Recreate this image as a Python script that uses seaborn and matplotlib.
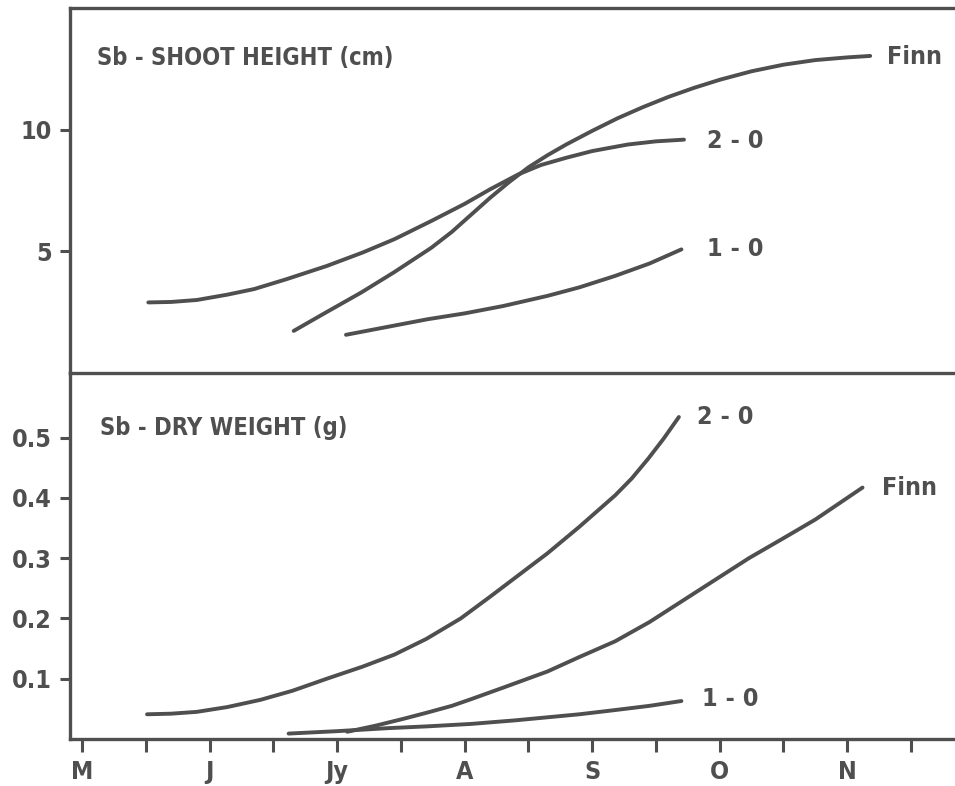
import matplotlib
matplotlib.use("Agg")
import matplotlib.pyplot as plt
import seaborn as sns
import pandas as pd

# ---- data (months: 0=May ... 6=Nov) ----
month_labels = ["M", "J", "Jy", "A", "S", "O", "N"]

# Shoot height (cm)
h_finn_x = [1.66, 1.90, 2.19, 2.45, 2.74, 2.90, 3.05, 3.20, 3.35, 3.50, 3.65, 3.80,
            4.00, 4.20, 4.40, 4.60, 4.80, 5.00, 5.25, 5.50, 5.75, 6.00, 6.18]
h_finn_y = [1.73, 2.45, 3.31, 4.15, 5.15, 5.80, 6.50, 7.20, 7.85, 8.45, 8.95, 9.40,
            9.95, 10.47, 10.93, 11.35, 11.72, 12.05, 12.40, 12.67, 12.86, 12.97, 13.03]
h_20_x = [0.52, 0.70, 0.90, 1.14, 1.35, 1.60, 1.92, 2.20, 2.45, 2.74, 3.00, 3.20,
          3.42, 3.60, 3.80, 4.00, 4.28, 4.50, 4.72]
h_20_y = [2.90, 2.92, 3.00, 3.22, 3.45, 3.85, 4.40, 4.95, 5.50, 6.25, 6.95, 7.55,
          8.16, 8.55, 8.85, 9.12, 9.39, 9.52, 9.59]
h_10_x = [2.07, 2.40, 2.71, 3.00, 3.30, 3.65, 3.90, 4.18, 4.45, 4.70]
h_10_y = [1.57, 1.90, 2.21, 2.45, 2.75, 3.17, 3.52, 3.99, 4.50, 5.08]

# Dry weight (g)
w_20_x = [0.51, 0.70, 0.90, 1.14, 1.40, 1.65, 1.92, 2.20, 2.45, 2.70, 2.97, 3.20,
          3.40, 3.65, 3.90, 4.18, 4.31, 4.44, 4.56, 4.68]
w_20_y = [0.041, 0.042, 0.045, 0.053, 0.065, 0.080, 0.100, 0.120, 0.140, 0.166, 0.200,
          0.236, 0.268, 0.308, 0.352, 0.404, 0.432, 0.465, 0.498, 0.534]
w_finn_x = [2.08, 2.30, 2.53, 2.71, 2.90, 3.05, 3.30, 3.65, 3.90, 4.18, 4.45, 4.70,
            4.95, 5.23, 5.50, 5.75, 6.12]
w_finn_y = [0.012, 0.022, 0.034, 0.044, 0.055, 0.066, 0.085, 0.112, 0.136, 0.162, 0.194,
            0.228, 0.262, 0.300, 0.333, 0.364, 0.417]
w_10_x = [1.62, 2.00, 2.40, 2.71, 3.05, 3.40, 3.65, 3.90, 4.18, 4.45, 4.70]
w_10_y = [0.009, 0.013, 0.018, 0.021, 0.025, 0.031, 0.036, 0.041, 0.048, 0.055, 0.063]

top_ticks = [5, 10]
bot_ticks = [0.1, 0.2, 0.3, 0.4, 0.5]

# ---- style ----
sns.set_style("white")
plt.rcParams["font.family"] = ["DejaVu Sans"]
plt.rcParams["font.stretch"] = "condensed"
INK = "#4f4f4f"
FS = 18

fig = plt.figure(figsize=(9.55, 7.86), dpi=100)
W, H = 955, 786
left = 70 / W
ax2 = fig.add_axes([left, 1 - 739 / H, 1 - left + 0.002, (739 - 373) / H])
ax1 = fig.add_axes([left, 1 - 373 / H, 1 - left + 0.002, (373 - 8) / H])

xlim = (-0.094, 6.86)


def draw(ax, xs, ys):
    df = pd.DataFrame({"x": xs, "y": ys})
    sns.lineplot(data=df, x="x", y="y", ax=ax, color=INK, lw=2.8,
                 sort=False, estimator=None, solid_capstyle="round",
                 solid_joinstyle="round")


draw(ax1, h_finn_x, h_finn_y)
draw(ax1, h_20_x, h_20_y)
draw(ax1, h_10_x, h_10_y)
draw(ax2, w_20_x, w_20_y)
draw(ax2, w_finn_x, w_finn_y)
draw(ax2, w_10_x, w_10_y)

for ax in (ax1, ax2):
    ax.set_xlim(*xlim)
    ax.set_xlabel("")
    ax.set_ylabel("")
    ax.spines["right"].set_visible(False)
    for s in ("left", "top", "bottom"):
        ax.spines[s].set_color(INK)
        ax.spines[s].set_linewidth(2.4)
    ax.tick_params(axis="y", left=True, direction="out", length=7, width=2.2,
                   color=INK, labelsize=FS, labelcolor=INK, pad=6)
    ax.patch.set_alpha(0)

ax1.set_ylim(0, 15)
ax1.set_yticks(top_ticks)
ax1.set_yticklabels([str(t) for t in top_ticks], fontweight="bold")
ax1.set_xticks([])

ax2.set_ylim(0, 0.607)
ax2.set_yticks(bot_ticks)
ax2.set_yticklabels([f"{t:.1f}" for t in bot_ticks], fontweight="bold")
ax2.spines["top"].set_visible(False)

xt = [i * 0.5 for i in range(14)]
ax2.set_xticks(xt)
ax2.set_xticklabels([month_labels[int(t)] if t == int(t) else "" for t in xt],
                    fontweight="bold")
ax2.tick_params(axis="x", bottom=True, direction="out", length=9, width=2.2,
                color=INK, labelsize=FS, labelcolor=INK, pad=6)

tk = dict(color=INK, fontsize=FS, fontweight="bold", va="center", ha="left")
tt = dict(tk, fontsize=17)
ax1.text(0.118, 12.95, "Sb - SHOOT HEIGHT (cm)", **tt)
ax1.text(6.31, 13.0, "Finn", **tk)
ax1.text(4.90, 9.52, "2 - 0", **tk)
ax1.text(4.90, 5.08, "1 - 0", **tk)

ax2.text(0.14, 0.515, "Sb - DRY WEIGHT (g)", **tt)
ax2.text(4.82, 0.534, "2 - 0", **tk)
ax2.text(6.27, 0.417, "Finn", **tk)
ax2.text(4.86, 0.067, "1 - 0", **tk)

fig.savefig("out.png", dpi=100, facecolor="white")
